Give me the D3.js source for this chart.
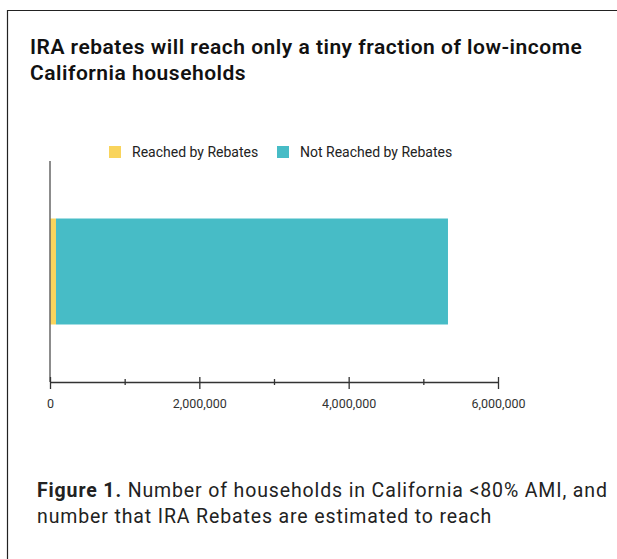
<!DOCTYPE html>
<html>
<head>
<meta charset="utf-8">
<script src="https://cdn.jsdelivr.net/npm/d3@7"></script>
<style>
  body { margin: 0; background: #fff; }
  svg { display: block; font-family: Roboto, "Noto Sans", sans-serif; }
</style>
</head>
<body>
<svg id="chart"></svg>
<script>
const categories = ["California <80% AMI"];
const seriesNames = ["Reached by Rebates", "Not Reached by Rebates"];
const reached = [80000];
const notReached = [5250000];
const tickValues = [0, 1000000, 2000000, 3000000, 4000000, 5000000, 6000000];
const tickLabels = ["0", "", "2,000,000", "", "4,000,000", "", "6,000,000"];
const colors = ["#f9d45c", "#47bcc6"];

const width = 617;
const height = 559;
const margin = { top: 161, left: 50, bottom: 382 };

const svg = d3.select("#chart")
    .attr("width", width)
    .attr("height", height);

// frame
svg.append("path")
    .attr("d", `M7.5,${height} V10.5 H${width}`)
    .attr("fill", "none")
    .attr("stroke", "#222")
    .attr("stroke-width", 1.2);

// title
const title = svg.append("text")
    .attr("x", 30)
    .attr("y", 54)
    .attr("font-size", 21)
    .attr("font-weight", 600)
    .attr("letter-spacing", 0.5)
    .attr("fill", "#111");
title.append("tspan").attr("x", 30).text("IRA rebates will reach only a tiny fraction of low-income");
title.append("tspan").attr("x", 30).attr("dy", 26).text("California households");

const xScale = d3.scaleLinear()
    .domain([0, 6000000])
    .range([50, 498]);

const yScale = d3.scaleBand()
    .domain(categories)
    .range([margin.top, margin.bottom])
    .paddingInner(0)
    .paddingOuter(0.5425);

const stackData = categories.map((c, i) => ({ cat: c, reached: reached[i], notReached: notReached[i] }));
const stack = d3.stack().keys(["reached", "notReached"])(stackData);

svg.selectAll("g.series")
    .data(stack)
    .enter()
    .append("g")
    .attr("class", "series")
    .attr("fill", (d, i) => colors[i])
    .selectAll("rect")
    .data(d => d)
    .enter()
    .append("rect")
    .attr("x", d => xScale(d[0]))
    .attr("y", d => yScale(d.data.cat))
    .attr("width", d => xScale(d[1]) - xScale(d[0]))
    .attr("height", yScale.bandwidth());

// y axis line
svg.append("line")
    .attr("x1", 50).attr("x2", 50)
    .attr("y1", margin.top).attr("y2", margin.bottom)
    .attr("stroke", "#666")
    .attr("stroke-width", 1.5);

// x axis
const xAxis = svg.append("g")
    .attr("transform", `translate(0, ${margin.bottom})`)
    .call(d3.axisBottom(xScale)
        .tickValues(tickValues)
        .tickSize(0)
        .tickFormat((d, i) => tickLabels[i]));

xAxis.select(".domain").attr("stroke", "#333").attr("stroke-width", 1.3);
xAxis.selectAll(".tick line")
    .attr("stroke", "#333")
    .attr("stroke-width", 1.3)
    .attr("y1", (d, i) => i % 2 === 0 ? -5 : -3)
    .attr("y2", (d, i) => i % 2 === 0 ? 7 : 3);
xAxis.selectAll(".tick text")
    .attr("y", 17)
    .attr("font-size", 12.5)
    .attr("font-family", "Roboto, sans-serif")
    .attr("fill", "#333");

// legend
const legendX = [109, 277];
const legend = svg.selectAll("g.legend")
    .data(seriesNames)
    .enter()
    .append("g")
    .attr("class", "legend")
    .attr("transform", (d, i) => `translate(${legendX[i]}, 146)`);
legend.append("rect")
    .attr("width", 12).attr("height", 12)
    .attr("fill", (d, i) => colors[i]);
legend.append("text")
    .attr("x", 23).attr("y", 11)
    .attr("font-size", 14)
    .attr("fill", "#222")
    .text(d => d);

// caption
const cap = svg.append("text")
    .attr("x", 37)
    .attr("y", 497)
    .attr("font-size", 19.5)
    .attr("letter-spacing", 0.87)
    .attr("fill", "#222");
const l1 = cap.append("tspan").attr("x", 37);
l1.append("tspan").attr("font-weight", 700).text("Figure 1.");
l1.append("tspan").attr("font-weight", 400).text(" Number of households in California <80% AMI, and");
cap.append("tspan").attr("x", 37).attr("dy", 26).text("number that IRA Rebates are estimated to reach");
</script>
</body>
</html>
